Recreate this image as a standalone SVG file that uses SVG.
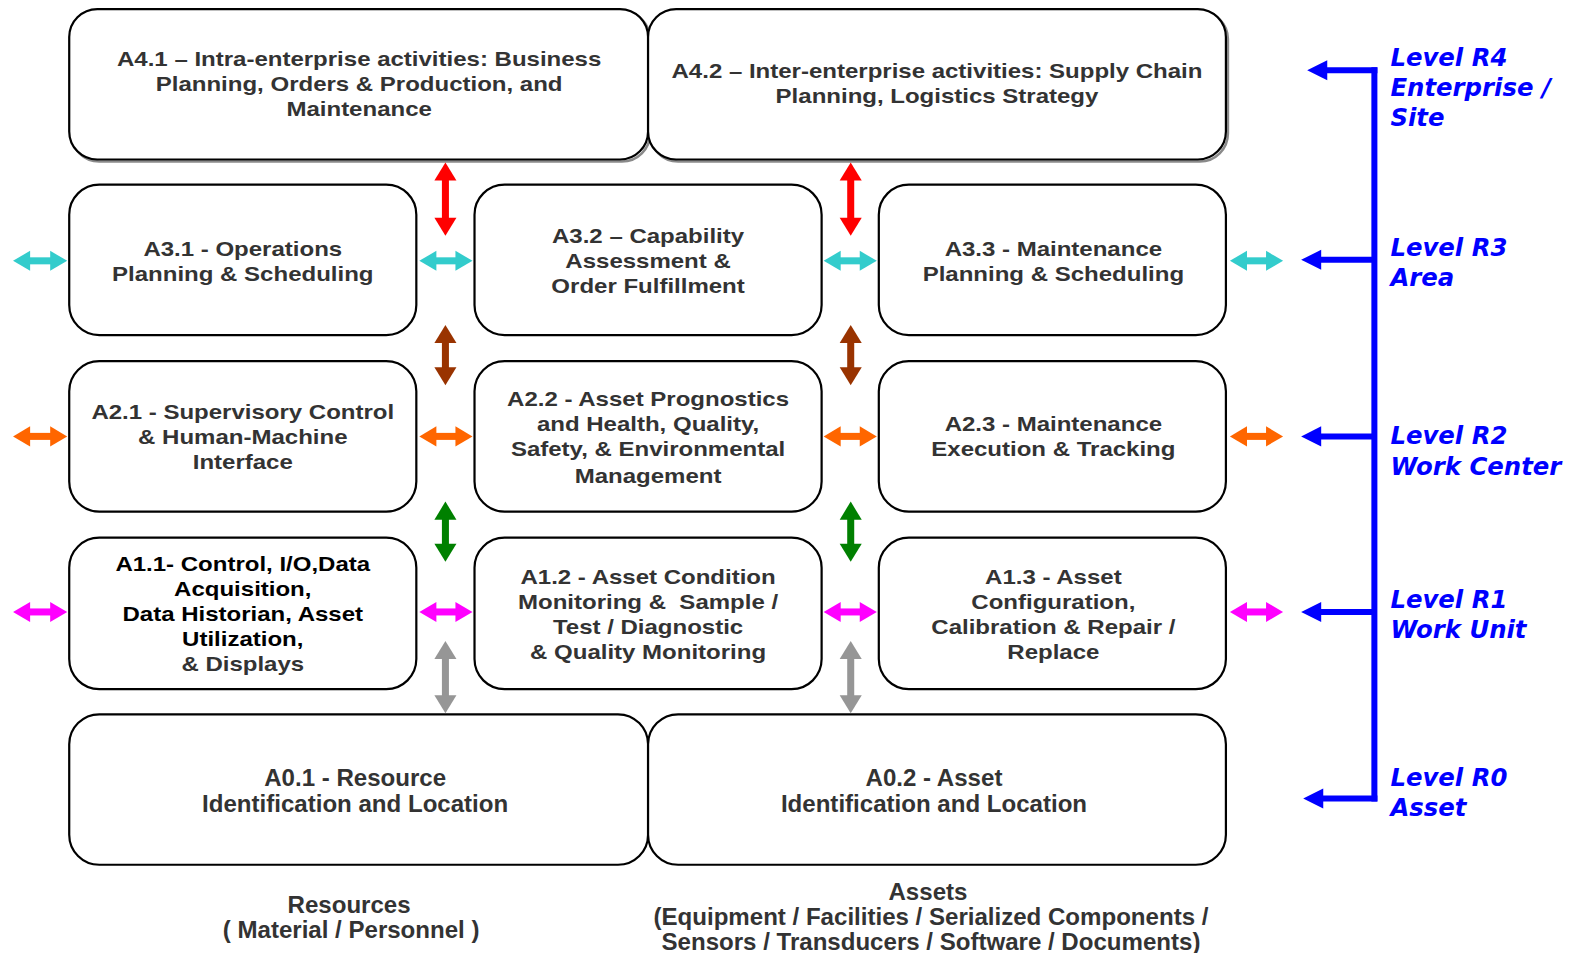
<svg xmlns="http://www.w3.org/2000/svg" width="1573" height="953" viewBox="0 0 1573 953">
  <style>
    .box { fill: #fff; stroke: #000; stroke-width: 2.2; }
    .shadow { fill: none; stroke: #8a8a8a; stroke-width: 2.5; }
    .t { font-family: "Liberation Sans", Arial, sans-serif; font-weight: bold; font-size: 21px; fill: #333; text-anchor: middle; }
    .tb { fill: #000; }
    .t0 { font-family: "Liberation Sans", Arial, sans-serif; font-weight: bold; font-size: 24px; fill: #333; text-anchor: middle; }
    .lvl { font-family: "DejaVu Sans", Verdana, sans-serif; font-weight: bold; font-style: italic; font-size: 24.3px; fill: #0000ff; }
    .ar { fill: none; stroke-width: 7; }
  </style>
  <defs>
    <marker id="h-red" markerUnits="userSpaceOnUse" markerWidth="19" markerHeight="22" refX="1" refY="11" orient="auto-start-reverse" overflow="visible"><path d="M0,0 L18,11 L0,22 Z" fill="#ff0000"/></marker>
    <marker id="h-cyan" markerUnits="userSpaceOnUse" markerWidth="19" markerHeight="22" refX="1" refY="11" orient="auto-start-reverse" overflow="visible"><path d="M0,1 L17,11 L0,21 Z" fill="#33cccc"/></marker>
    <marker id="h-brown" markerUnits="userSpaceOnUse" markerWidth="19" markerHeight="22" refX="1" refY="11" orient="auto-start-reverse" overflow="visible"><path d="M0,0 L18,11 L0,22 Z" fill="#993300"/></marker>
    <marker id="h-orange" markerUnits="userSpaceOnUse" markerWidth="19" markerHeight="22" refX="1" refY="11" orient="auto-start-reverse" overflow="visible"><path d="M0,1 L17,11 L0,21 Z" fill="#ff6600"/></marker>
    <marker id="h-green" markerUnits="userSpaceOnUse" markerWidth="19" markerHeight="22" refX="1" refY="11" orient="auto-start-reverse" overflow="visible"><path d="M0,0 L18,11 L0,22 Z" fill="#008000"/></marker>
    <marker id="h-magenta" markerUnits="userSpaceOnUse" markerWidth="19" markerHeight="22" refX="1" refY="11" orient="auto-start-reverse" overflow="visible"><path d="M0,1 L17,11 L0,21 Z" fill="#ff00ff"/></marker>
    <marker id="h-gray" markerUnits="userSpaceOnUse" markerWidth="19" markerHeight="22" refX="1" refY="11" orient="auto-start-reverse" overflow="visible"><path d="M0,0 L18,11 L0,22 Z" fill="#969696"/></marker>
    <marker id="h-blue" markerUnits="userSpaceOnUse" markerWidth="21" markerHeight="20" refX="1" refY="10" orient="auto" overflow="visible"><path d="M0,0 L20,10 L0,20 Z" fill="#0000ff"/></marker>
  </defs>

  <rect width="1573" height="953" fill="#fff"/>

  <g transform="scale(1.0032)">
  <!-- Level 4 -->
  <g id="A4.1">
    <rect class="shadow" x="71" y="11" width="577" height="150" rx="28"/>
    <rect class="box" x="69" y="9" width="577" height="150" rx="28"/>
    <g transform="translate(358 0) scale(1.14 1)">
      <text class="t" x="0" y="66">A4.1 – Intra-enterprise activities: Business</text>
      <text class="t" x="0" y="91">Planning, Orders &amp; Production, and</text>
      <text class="t" x="0" y="116">Maintenance</text>
    </g>
  </g>
  <g id="A4.2">
    <rect class="shadow" x="648" y="11" width="576" height="150" rx="28"/>
    <rect class="box" x="646" y="9" width="576" height="150" rx="28"/>
    <g transform="translate(934 0) scale(1.14 1)">
      <text class="t" x="0" y="78">A4.2 – Inter-enterprise activities: Supply Chain</text>
      <text class="t" x="0" y="103">Planning, Logistics Strategy</text>
    </g>
  </g>

  <!-- Level 3 -->
  <g id="A3.1">
    <rect class="box" x="69" y="184" width="346" height="150" rx="30"/>
    <g transform="translate(242 0) scale(1.14 1)">
      <text class="t" x="0" y="255">A3.1 - Operations</text>
      <text class="t" x="0" y="280">Planning &amp; Scheduling</text>
    </g>
  </g>
  <g id="A3.2">
    <rect class="box" x="473" y="184" width="346" height="150" rx="30"/>
    <g transform="translate(646 0) scale(1.14 1)">
      <text class="t" x="0" y="242">A3.2 – Capability</text>
      <text class="t" x="0" y="267">Assessment &amp;</text>
      <text class="t" x="0" y="292">Order Fulfillment</text>
    </g>
  </g>
  <g id="A3.3">
    <rect class="box" x="876" y="184" width="346" height="150" rx="30"/>
    <g transform="translate(1050 0) scale(1.14 1)">
      <text class="t" x="0" y="255">A3.3 - Maintenance</text>
      <text class="t" x="0" y="280">Planning &amp; Scheduling</text>
    </g>
  </g>

  <!-- Level 2 -->
  <g id="A2.1">
    <rect class="box" x="69" y="360" width="346" height="150" rx="30"/>
    <g transform="translate(242 0) scale(1.14 1)">
      <text class="t" x="0" y="418">A2.1 - Supervisory Control</text>
      <text class="t" x="0" y="443">&amp; Human-Machine</text>
      <text class="t" x="0" y="468">Interface</text>
    </g>
  </g>
  <g id="A2.2">
    <rect class="box" x="473" y="360" width="346" height="150" rx="30"/>
    <g transform="translate(646 0) scale(1.14 1)">
      <text class="t" x="0" y="405">A2.2 - Asset Prognostics</text>
      <text class="t" x="0" y="430">and Health, Quality,</text>
      <text class="t" x="0" y="455">Safety, &amp; Environmental</text>
      <text class="t" x="0" y="481">Management</text>
    </g>
  </g>
  <g id="A2.3">
    <rect class="box" x="876" y="360" width="346" height="150" rx="30"/>
    <g transform="translate(1050 0) scale(1.14 1)">
      <text class="t" x="0" y="430">A2.3 - Maintenance</text>
      <text class="t" x="0" y="455">Execution &amp; Tracking</text>
    </g>
  </g>

  <!-- Level 1 -->
  <g id="A1.1">
    <rect class="box" x="69" y="536" width="346" height="151" rx="30"/>
    <g transform="translate(242 0) scale(1.14 1)">
      <text class="t tb" x="0" y="569">A1.1- Control, I/O,Data</text>
      <text class="t tb" x="0" y="594">Acquisition,</text>
      <text class="t tb" x="0" y="619">Data Historian, Asset</text>
      <text class="t tb" x="0" y="644">Utilization,</text>
      <text class="t" x="0" y="669">&amp; Displays</text>
    </g>
  </g>
  <g id="A1.2">
    <rect class="box" x="473" y="536" width="346" height="151" rx="30"/>
    <g transform="translate(646 0) scale(1.14 1)">
      <text class="t" x="0" y="582">A1.2 - Asset Condition</text>
      <text class="t" x="0" y="607" xml:space="preserve">Monitoring &amp;  Sample /</text>
      <text class="t" x="0" y="632">Test / Diagnostic</text>
      <text class="t" x="0" y="657">&amp; Quality Monitoring</text>
    </g>
  </g>
  <g id="A1.3">
    <rect class="box" x="876" y="536" width="346" height="151" rx="30"/>
    <g transform="translate(1050 0) scale(1.14 1)">
      <text class="t" x="0" y="582">A1.3 - Asset</text>
      <text class="t" x="0" y="607">Configuration,</text>
      <text class="t" x="0" y="632">Calibration &amp; Repair /</text>
      <text class="t" x="0" y="657">Replace</text>
    </g>
  </g>

  <!-- Level 0 -->
  <g id="A0.1">
    <rect class="box" x="69" y="712" width="577" height="150" rx="30"/>
    <text class="t0" x="354" y="783">A0.1 - Resource</text>
    <text class="t0" x="354" y="809">Identification and Location</text>
  </g>
  <g id="A0.2">
    <rect class="box" x="646" y="712" width="576" height="150" rx="30"/>
    <text class="t0" x="931" y="783">A0.2 - Asset</text>
    <text class="t0" x="931" y="809">Identification and Location</text>
  </g>

  <!-- Captions under the bottom row -->
  <g id="resources-caption">
    <text class="t0" x="348" y="910">Resources</text>
    <text class="t0" x="350" y="935">( Material / Personnel )</text>
  </g>
  <g id="assets-caption">
    <text class="t0" x="925" y="897">Assets</text>
    <text class="t0" x="928" y="922">(Equipment / Facilities / Serialized Components /</text>
    <text class="t0" x="928" y="947">Sensors / Transducers / Software / Documents)</text>
  </g>

  <!-- Connectors -->
  <g id="connectors">
    <!-- vertical links between rows -->
    <line class="ar" stroke="#ff0000" x1="444" y1="179" x2="444" y2="218" marker-start="url(#h-red)" marker-end="url(#h-red)"/>
    <line class="ar" stroke="#ff0000" x1="848" y1="179" x2="848" y2="218" marker-start="url(#h-red)" marker-end="url(#h-red)"/>
    <line class="ar" stroke="#993300" x1="444" y1="341" x2="444" y2="367" marker-start="url(#h-brown)" marker-end="url(#h-brown)"/>
    <line class="ar" stroke="#993300" x1="848" y1="341" x2="848" y2="367" marker-start="url(#h-brown)" marker-end="url(#h-brown)"/>
    <line class="ar" stroke="#008000" x1="444" y1="517" x2="444" y2="543" marker-start="url(#h-green)" marker-end="url(#h-green)"/>
    <line class="ar" stroke="#008000" x1="848" y1="517" x2="848" y2="543" marker-start="url(#h-green)" marker-end="url(#h-green)"/>
    <line class="ar" stroke="#969696" x1="444" y1="656" x2="444" y2="694" marker-start="url(#h-gray)" marker-end="url(#h-gray)"/>
    <line class="ar" stroke="#969696" x1="848" y1="656" x2="848" y2="694" marker-start="url(#h-gray)" marker-end="url(#h-gray)"/>

    <!-- horizontal links at level 3 -->
    <line class="ar" stroke="#33cccc" x1="29" y1="260" x2="51" y2="260" marker-start="url(#h-cyan)" marker-end="url(#h-cyan)"/>
    <line class="ar" stroke="#33cccc" x1="434" y1="260" x2="455" y2="260" marker-start="url(#h-cyan)" marker-end="url(#h-cyan)"/>
    <line class="ar" stroke="#33cccc" x1="837" y1="260" x2="858" y2="260" marker-start="url(#h-cyan)" marker-end="url(#h-cyan)"/>
    <line class="ar" stroke="#33cccc" x1="1242" y1="260" x2="1263" y2="260" marker-start="url(#h-cyan)" marker-end="url(#h-cyan)"/>
    <!-- level 2 -->
    <line class="ar" stroke="#ff6600" x1="29" y1="435" x2="51" y2="435" marker-start="url(#h-orange)" marker-end="url(#h-orange)"/>
    <line class="ar" stroke="#ff6600" x1="434" y1="435" x2="455" y2="435" marker-start="url(#h-orange)" marker-end="url(#h-orange)"/>
    <line class="ar" stroke="#ff6600" x1="837" y1="435" x2="858" y2="435" marker-start="url(#h-orange)" marker-end="url(#h-orange)"/>
    <line class="ar" stroke="#ff6600" x1="1242" y1="435" x2="1263" y2="435" marker-start="url(#h-orange)" marker-end="url(#h-orange)"/>
    <!-- level 1 -->
    <line class="ar" stroke="#ff00ff" x1="29" y1="610" x2="51" y2="610" marker-start="url(#h-magenta)" marker-end="url(#h-magenta)"/>
    <line class="ar" stroke="#ff00ff" x1="434" y1="610" x2="455" y2="610" marker-start="url(#h-magenta)" marker-end="url(#h-magenta)"/>
    <line class="ar" stroke="#ff00ff" x1="837" y1="610" x2="858" y2="610" marker-start="url(#h-magenta)" marker-end="url(#h-magenta)"/>
    <line class="ar" stroke="#ff00ff" x1="1242" y1="610" x2="1263" y2="610" marker-start="url(#h-magenta)" marker-end="url(#h-magenta)"/>

    <!-- level scale -->
    <line x1="1370" y1="67" x2="1370" y2="799" stroke="#0000ff" stroke-width="6"/>
    <line x1="1373" y1="70" x2="1322" y2="70" stroke="#0000ff" stroke-width="6" marker-end="url(#h-blue)"/>
    <line x1="1370" y1="259" x2="1316" y2="259" stroke="#0000ff" stroke-width="6" marker-end="url(#h-blue)"/>
    <line x1="1370" y1="435" x2="1316" y2="435" stroke="#0000ff" stroke-width="6" marker-end="url(#h-blue)"/>
    <line x1="1370" y1="610" x2="1316" y2="610" stroke="#0000ff" stroke-width="6" marker-end="url(#h-blue)"/>
    <line x1="1373" y1="796" x2="1318" y2="796" stroke="#0000ff" stroke-width="6" marker-end="url(#h-blue)"/>
  </g>

  <!-- Level labels -->
  <g id="level-labels">
    <text class="lvl" x="1386" y="66">Level R4</text>
    <text class="lvl" x="1386" y="96">Enterprise /</text>
    <text class="lvl" x="1386" y="126">Site</text>
    <text class="lvl" x="1386" y="255">Level R3</text>
    <text class="lvl" x="1386" y="285">Area</text>
    <text class="lvl" x="1386" y="443">Level R2</text>
    <text class="lvl" x="1386" y="473">Work Center</text>
    <text class="lvl" x="1386" y="606">Level R1</text>
    <text class="lvl" x="1386" y="636">Work Unit</text>
    <text class="lvl" x="1386" y="783">Level R0</text>
    <text class="lvl" x="1386" y="813">Asset</text>
  </g>
  </g>
</svg>
